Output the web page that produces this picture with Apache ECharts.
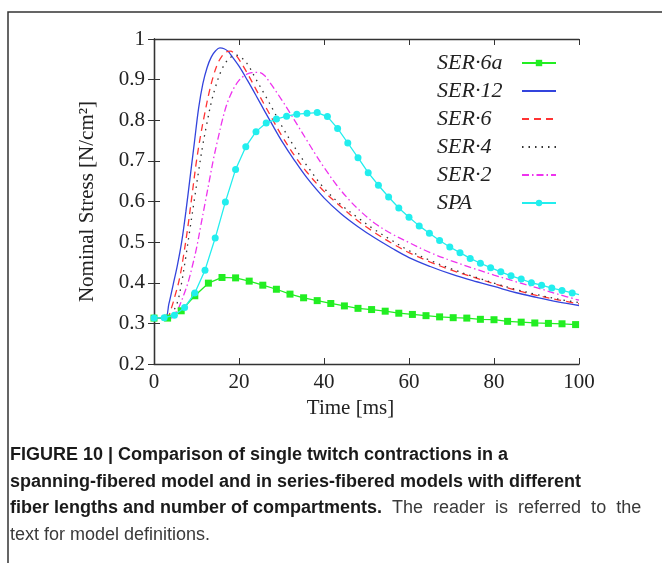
<!DOCTYPE html>
<html>
<head>
<meta charset="utf-8">
<script src="https://cdn.jsdelivr.net/npm/echarts@6/dist/echarts.min.js"></script>
<style>
  html, body { margin: 0; padding: 0; background: #fff; }
  #chart { width: 662px; height: 563px; }
</style>
</head>
<body>
<div id="chart"></div>
<script>
// values (time in ms, stress in N/cm2)
const xTicks = [0, 20, 40, 60, 80, 100];
const yTicks = [0.2, 0.3, 0.4, 0.5, 0.6, 0.7, 0.8, 0.9, 1];

const ser6aX = [0, 3.2, 6.4, 9.6, 12.8, 16, 19.2, 22.4, 25.6, 28.8, 32, 35.2, 38.4, 41.6, 44.8, 48,
  51.2, 54.4, 57.6, 60.8, 64, 67.2, 70.4, 73.6, 76.8, 80, 83.2, 86.4, 89.6, 92.8, 96, 99.2];
const ser6aY = [0.313, 0.313, 0.331, 0.368, 0.399, 0.413, 0.412, 0.404, 0.394, 0.384, 0.372, 0.363,
  0.356, 0.349, 0.343, 0.337, 0.334, 0.330, 0.325, 0.322, 0.319, 0.316, 0.314, 0.313, 0.310, 0.309,
  0.305, 0.303, 0.301, 0.300, 0.299, 0.297];

const ser12X = [0, 2.6, 3.5, 4.5, 5.5, 6.5, 7.5, 8.5, 9.5, 10.5, 11.5, 12.5, 13.5, 14.5, 15.5, 16.5,
  17.5, 18, 20, 22, 24, 26, 28, 30, 33, 36, 40, 44, 48, 52, 56, 60, 65, 70, 75, 80, 85, 90, 95, 100];
const ser12Y = [0.313, 0.313, 0.348, 0.395, 0.443, 0.50, 0.575, 0.66, 0.745, 0.83, 0.89, 0.93, 0.956,
  0.971, 0.978, 0.976, 0.969, 0.962, 0.933, 0.898, 0.861, 0.823, 0.786, 0.750, 0.702, 0.658, 0.609,
  0.570, 0.538, 0.510, 0.485, 0.462, 0.440, 0.421, 0.405, 0.391, 0.376, 0.364, 0.353, 0.344];

const ser6X = [0, 3, 4, 5, 6, 7, 8, 9, 10, 11, 12, 13, 14, 15, 16, 17, 18, 19, 20, 22, 24, 26, 28,
  30, 33, 36, 40, 44, 48, 52, 56, 60, 65, 70, 75, 80, 85, 90, 95, 100];
const ser6Y = [0.313, 0.313, 0.335, 0.37, 0.41, 0.47, 0.54, 0.62, 0.70, 0.765, 0.82, 0.87, 0.91,
  0.94, 0.958, 0.968, 0.970, 0.963, 0.950, 0.915, 0.876, 0.838, 0.800, 0.763, 0.714, 0.672, 0.625,
  0.587, 0.552, 0.523, 0.497, 0.474, 0.451, 0.431, 0.414, 0.398, 0.382, 0.369, 0.358, 0.348];

const ser4X = [0, 3.7, 4.6, 5.6, 6.5, 7.5, 8.5, 9.5, 10.5, 11.5, 12.5, 13.5, 14.5, 15.5, 16.5, 17.5,
  18.5, 19.5, 20.5, 22, 24, 26, 28, 30, 33, 36, 40, 44, 48, 52, 56, 60, 65, 70, 75, 80, 85, 90, 95, 100];
const ser4Y = [0.313, 0.313, 0.33, 0.355, 0.40, 0.465, 0.535, 0.605, 0.675, 0.74, 0.795, 0.845, 0.883,
  0.914, 0.936, 0.950, 0.958, 0.960, 0.955, 0.938, 0.901, 0.864, 0.826, 0.787, 0.735, 0.688, 0.633,
  0.592, 0.560, 0.530, 0.504, 0.479, 0.455, 0.434, 0.416, 0.399, 0.384, 0.371, 0.360, 0.351];

const ser2X = [0, 4, 5, 6, 7, 8, 9, 10, 11, 12, 13, 14, 15, 16, 17, 18, 19, 20, 21, 22, 23, 24, 25,
  26, 27, 28, 30, 32, 34, 36, 38, 40, 43, 46, 49, 52, 56, 60, 65, 70, 75, 80, 85, 90, 95, 100];
const ser2Y = [0.313, 0.313, 0.325, 0.343, 0.37, 0.40, 0.44, 0.485, 0.54, 0.595, 0.65, 0.705, 0.752,
  0.797, 0.835, 0.862, 0.883, 0.898, 0.908, 0.914, 0.917, 0.918, 0.917, 0.910, 0.897, 0.882, 0.851,
  0.818, 0.784, 0.750, 0.716, 0.684, 0.640, 0.603, 0.572, 0.546, 0.520, 0.499, 0.474, 0.454, 0.436,
  0.419, 0.403, 0.388, 0.372, 0.357];

const spaX = [0, 2.4, 4.8, 7.2, 9.6, 12, 14.4, 16.8, 19.2, 21.6, 24, 26.4, 28.8, 31.2, 33.6, 36, 38.4,
  40.8, 43.2, 45.6, 48, 50.4, 52.8, 55.2, 57.6, 60, 62.4, 64.8, 67.2, 69.6, 72, 74.4, 76.8, 79.2,
  81.6, 84, 86.4, 88.8, 91.2, 93.6, 96, 98.4];
const spaY = [0.313, 0.314, 0.320, 0.339, 0.375, 0.431, 0.510, 0.599, 0.679, 0.735, 0.772, 0.793,
  0.803, 0.810, 0.815, 0.817, 0.819, 0.809, 0.780, 0.744, 0.708, 0.671, 0.640, 0.611, 0.584, 0.561,
  0.540, 0.522, 0.504, 0.488, 0.474, 0.460, 0.448, 0.437, 0.427, 0.417, 0.409, 0.400, 0.394, 0.387,
  0.381, 0.375];
const spaEnd = [100, 0.371];
const ser6aEnd = [100, 0.297];

const legendNames = ['SER·6a', 'SER·12', 'SER·6', 'SER·4', 'SER·2', 'SPA'];

const SERIF = '"Liberation Serif", "DejaVu Serif", serif';
const SANS = '"Liberation Sans Narrow", "Liberation Sans", Arial, sans-serif';

function pairs(xs, ys) {
  return xs.map((x, i) => [x, ys[i]]);
}

const chart = echarts.init(document.getElementById('chart'));

function curve(name, xs, ys, color, dash) {
  return {
    name: name,
    type: 'line',
    data: pairs(xs, ys),
    symbol: 'none',
    smooth: 0.35,
    lineStyle: { color: color, width: 1.3, type: dash },
    itemStyle: { color: color },
    z: 3
  };
}

const option = {
  animation: false,
  backgroundColor: '#fff',
  grid: { left: 154, top: 39, width: 425, height: 325, containLabel: false },
  title: {
    left: 5,
    top: 437,
    // the third line is justified in the original, hence the wider word gaps
    text: '{b|FIGURE 10 | Comparison of single twitch contractions in a}\n' +
      '{b|spanning-fibered model and in series-fibered models with different}\n' +
      '{b|fiber lengths and number of compartments.}{n|  The  reader  is  referred  to  the}\n' +
      '{n|text for model definitions.}',
    textStyle: {
      rich: {
        b: { fontFamily: SANS, fontWeight: 'bold', fontSize: 18, lineHeight: 26.5, color: '#1a1a1a' },
        n: { fontFamily: SANS, fontWeight: 'normal', fontSize: 18, lineHeight: 26.5, color: '#3a3a3a' }
      }
    }
  },
  legend: {
    orient: 'vertical',
    left: 432,
    top: 47,
    align: 'right',
    itemWidth: 34,
    itemHeight: 8,
    itemGap: 6,
    data: legendNames.map((n, i) => (i === 0 || i === 5) ? n : { name: n, itemStyle: { opacity: 0 } }),
    formatter: '{a|{name}}',
    textStyle: {
      rich: {
        a: { width: 80, align: 'left', fontFamily: SERIF, fontStyle: 'italic', fontSize: 22,
          lineHeight: 22, color: '#222' }
      }
    }
  },
  xAxis: [{
    type: 'value',
    min: 0, max: 100, interval: 20,
    name: 'Time [ms]',
    nameLocation: 'middle',
    nameGap: 32,
    nameTextStyle: { fontFamily: SERIF, fontSize: 21, color: '#222', padding: [0, 32, 0, 0] },
    axisLine: { show: true, lineStyle: { color: '#333', width: 1.3 } },
    axisTick: { inside: true, length: 6, lineStyle: { color: '#333' } },
    axisLabel: { fontFamily: SERIF, fontSize: 21, color: '#222', margin: 8,
      formatter: v => xTicks.includes(v) ? String(v) : '' },
    splitLine: { show: false }
  }, {
    type: 'value',
    position: 'top',
    min: 0, max: 100, interval: 20,
    axisLine: { show: true, lineStyle: { color: '#333', width: 1.3 } },
    axisTick: { inside: true, length: 6, lineStyle: { color: '#333' } },
    axisLabel: { show: false },
    splitLine: { show: false }
  }],
  yAxis: [{
    type: 'value',
    min: 0.2, max: 1, interval: 0.1,
    name: 'Nominal Stress [N/cm²]',
    nameLocation: 'middle',
    nameGap: 56,
    nameRotate: 90,
    nameTextStyle: { fontFamily: SERIF, fontSize: 21, color: '#222' },
    axisLine: { show: true, lineStyle: { color: '#333', width: 1.3 } },
    axisTick: { inside: true, length: 6, lineStyle: { color: '#333' } },
    axisLabel: { fontFamily: SERIF, fontSize: 21, color: '#222', margin: 9,
      formatter: v => {
        const t = yTicks.find(k => Math.abs(k - v) < 1e-6);
        return t === undefined ? '' : (t === 1 ? '1' : t.toFixed(1));
      } },
    splitLine: { show: false }
  }, {
    type: 'value',
    position: 'right',
    min: 0.2, max: 1, interval: 0.1,
    axisLine: { show: true, lineStyle: { color: '#333', width: 1.3 } },
    axisTick: { inside: true, length: 6, lineStyle: { color: '#333' } },
    axisLabel: { show: false },
    splitLine: { show: false }
  }],
  graphic: [{
    type: 'rect',
    shape: { x: 8, y: 12, width: 720, height: 640 },
    style: { fill: 'none', stroke: '#333', lineWidth: 1.5 },
    silent: true,
    z: -1
  }],
  series: [
    {
      name: 'SER·6a',
      type: 'line',
      data: pairs(ser6aX, ser6aY).concat([{ value: ser6aEnd, symbol: 'none' }]),
      symbol: 'rect',
      symbolSize: 7,
      lineStyle: { color: '#22ee22', width: 1.3 },
      itemStyle: { color: '#22ee22' },
      z: 4
    },
    curve('SER·12', ser12X, ser12Y, '#3344dd', 'solid'),
    curve('SER·6', ser6X, ser6Y, '#ff3333', [7, 5]),
    curve('SER·4', ser4X, ser4Y, '#333333', [1.5, 5]),
    curve('SER·2', ser2X, ser2Y, '#ee33ee', [7, 3, 1.5, 3]),
    {
      name: 'SPA',
      type: 'line',
      data: pairs(spaX, spaY).concat([{ value: spaEnd, symbol: 'none' }]),
      symbol: 'circle',
      symbolSize: 7,
      lineStyle: { color: '#22eeee', width: 1.3 },
      itemStyle: { color: '#22eeee' },
      z: 5
    }
  ]
};

chart.setOption(option);
</script>
</body>
</html>
